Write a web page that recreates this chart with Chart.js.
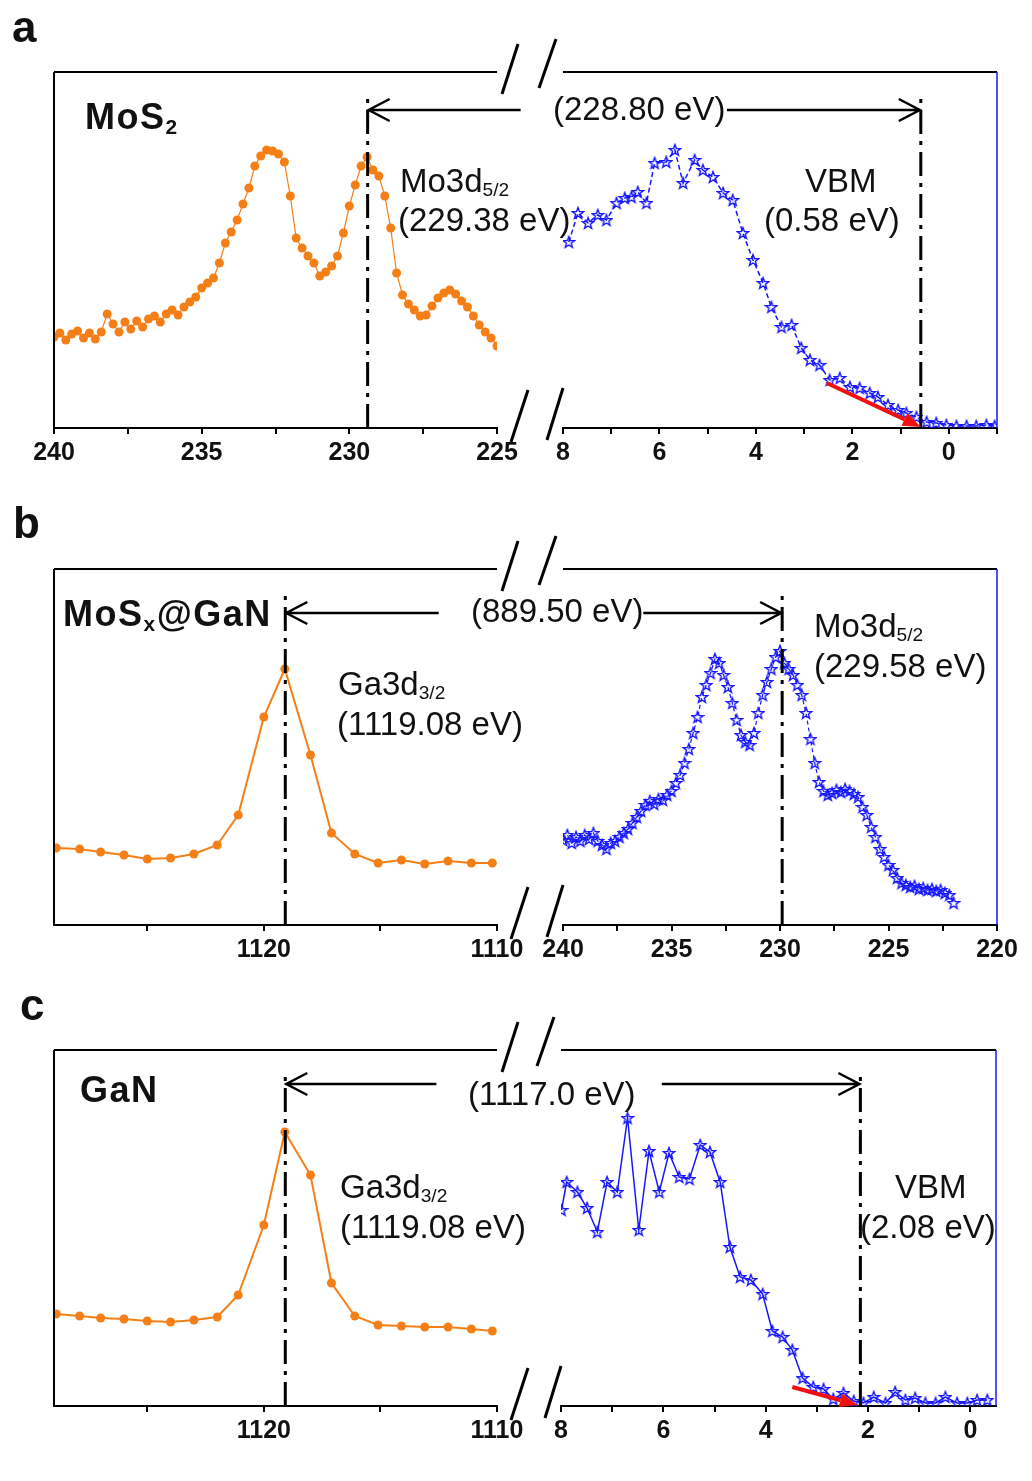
<!DOCTYPE html>
<html>
<head>
<meta charset="utf-8">
<script src="https://cdn.jsdelivr.net/npm/chart.js@4.4.1/dist/chart.umd.min.js"></script>
<style>
  body { margin: 0; background: #fff; width: 1032px; height: 1481px; position: relative; overflow: hidden;
         font-family: "Liberation Sans", Arial, sans-serif; }
  canvas { position: absolute; }
  .t { position: absolute; white-space: nowrap; color: #111; line-height: 1; }
  .t sub { font-size: 58%; vertical-align: -0.22em; line-height: 0; }
  .bold { font-weight: bold; letter-spacing: 1.5px; }
</style>
</head>
<body>

<script>
const ORANGE = '#f57f17';
const BLUE = '#1616ff';

// ---- panel a : MoS2 ----
const aLeftE = [240.0,239.8,239.6,239.4,239.2,239.0,238.8,238.6,238.4,238.2,238.0,237.8,237.6,237.4,237.2,237.0,
  236.8,236.6,236.4,236.2,236.0,235.8,235.6,235.4,235.2,235.0,234.8,234.6,234.4,234.2,234.0,233.8,233.6,233.4,
  233.2,233.0,232.8,232.6,232.4,232.2,232.0,231.8,231.6,231.4,231.2,231.0,230.8,230.6,230.4,230.2,230.0,229.8,
  229.6,229.4,229.2,229.0,228.8,228.6,228.4,228.2,228.0,227.8,227.6,227.4,227.2,227.0,226.8,226.6,226.4,226.2,
  226.0,225.8,225.6,225.4,225.2,225.0];
const aLeftI = [91,95,88,94,97,90,95,89,96,114,104,96,106,99,107,101,
  109,112,106,114,118,113,121,126,131,140,145,150,165,185,196,208,224,240,
  262,272,278,277,274,266,232,190,180,172,165,152,156,162,172,195,222,243,
  262,271,258,252,232,200,155,133,124,118,112,113,122,130,135,138,134,127,
  121,112,103,96,90,82];

const aRightE = [7.88,7.69,7.48,7.28,7.10,6.89,6.72,6.58,6.45,6.27,6.10,5.86,5.68,5.51,5.27,5.10,4.89,4.68,4.48,
  4.27,4.06,3.85,3.68,3.47,3.26,3.06,2.88,2.68,2.47,2.26,2.05,1.85,1.64,1.47,1.26,1.05,0.88,0.67,0.46,0.26,0.05,
  -0.16,-0.37,-0.57,-0.78,-0.95];
const aRightI = [186,215,205,213,208,225,230,231,236,225,265,266,278,245,268,258,251,235,228,
  195,168,145,121,101,103,80,68,63,48,50,41,40,35,31,23,18,15,11,6,5,3,
  2,2,2,3,2];

// ---- panel b : MoSx@GaN ----
const bLeftE = [1128.9,1127.9,1127.0,1126.0,1125.0,1124.0,1123.0,1122.0,1121.1,1120.0,1119.1,1118.0,1117.1,
  1116.1,1115.1,1114.1,1113.1,1112.1,1111.1,1110.2];
const bLeftI = [77,76,73,70,66,67,71,80,110,208,256,170,92,71,62,65,61,64,62,62];

const bRightE = [240.0,239.8,239.6,239.4,239.2,239.0,238.8,238.6,238.4,238.2,238.0,237.8,237.6,237.4,237.2,237.0,
  236.8,236.6,236.4,236.2,236.0,235.8,235.6,235.4,235.2,235.0,234.8,234.6,234.4,234.2,234.0,233.8,233.6,233.4,
  233.2,233.0,232.8,232.6,232.4,232.2,232.0,231.8,231.6,231.4,231.2,231.0,230.8,230.6,230.4,230.2,230.0,229.8,
  229.6,229.4,229.2,229.0,228.8,228.6,228.4,228.2,228.0,227.8,227.6,227.4,227.2,227.0,226.8,226.6,226.4,226.2,
  226.0,225.8,225.6,225.4,225.2,225.0,224.8,224.6,224.4,224.2,224.0,223.8,223.6,223.4,223.2,223.0,222.8,222.6,
  222.4,222.2,222.0];
const bRightI = [85,90,82,88,84,90,86,92,84,80,76,82,84,88,92,96,
  102,108,114,120,124,121,126,125,130,134,142,150,162,176,192,208,228,240,
  252,266,262,250,238,222,205,190,183,180,192,212,230,243,256,268,274,262,
  256,250,240,230,212,186,162,143,134,130,132,135,133,136,134,131,128,118,
  110,98,88,76,68,60,55,47,42,40,38,39,36,37,35,36,34,35,
  32,30,22];

// ---- panel c : GaN ----
const cLeftE = bLeftE;
const cLeftI = [92,90,88,87,85,84,86,89,111,181,274,231,123,90,81,80,79,79,77,75];

const cRightE = [7.99,7.89,7.68,7.49,7.29,7.10,6.90,6.70,6.48,6.28,6.08,5.89,5.69,5.49,5.28,5.09,4.89,4.70,4.50,
  4.29,4.06,3.87,3.67,3.48,3.28,3.07,2.87,2.68,2.48,2.28,2.09,1.89,1.66,1.47,1.27,1.08,0.88,0.68,0.49,0.26,0.06,
  -0.13,-0.33];
const cRightI = [196,224,214,198,174,224,214,288,176,255,214,253,229,227,261,254,224,159,129,
  126,112,75,69,56,28,19,17,7,13,5,3,9,3,14,6,8,3,3,9,3,3,
  6,6];

// peak / VBM positions (eV)
const peaks = { aL: 229.38, aR: 0.58, bL: 1119.08, bR: 229.9, cL: 1119.08, cR: 2.15 };

// outlined five point star used as point marker
function starMarker(size, color) {
  const c = document.createElement('canvas');
  c.width = size; c.height = size;
  const g = c.getContext('2d');
  const r = size / 2 - 1, ri = r * 0.42;
  g.beginPath();
  for (let i = 0; i < 10; i++) {
    const rr = i % 2 ? ri : r;
    const a = -Math.PI / 2 + i * Math.PI / 5;
    g.lineTo(size / 2 + rr * Math.cos(a), size / 2 + 0.5 + rr * Math.sin(a));
  }
  g.closePath();
  g.strokeStyle = color; g.lineWidth = 1.4;
  g.stroke();
  return c;
}
const star = starMarker(14, BLUE);

function line(ctx, pts, w, color) {
  ctx.strokeStyle = color; ctx.lineWidth = w;
  ctx.beginPath();
  ctx.moveTo(pts[0], pts[1]);
  ctx.lineTo(pts[2], pts[3]);
  ctx.stroke();
}

const deco = {
  id: 'deco',
  afterDatasetsDraw(chart, args, o) {
    const { ctx, chartArea: ca, scales: { x, y } } = chart;
    ctx.save();
    ctx.lineCap = 'butt';
    line(ctx, [ca.left, ca.top, ca.right, ca.top], 2, '#000');
    if (o.side === 'left') {
      line(ctx, [ca.left, ca.top, ca.left, ca.bottom + 1], 2, '#000');
      // axis break marks
      line(ctx, [ca.right + 5, ca.top + 22, ca.right + 21, ca.top - 28], 3, '#000');
      line(ctx, [ca.right + 14, ca.bottom + 14, ca.right + 31, ca.bottom - 38], 3, '#000');
    } else {
      line(ctx, [ca.right, ca.top, ca.right, ca.bottom], 1.5, BLUE);
      line(ctx, [ca.left - 24, ca.top + 16, ca.left - 7, ca.top - 33], 3, '#000');
      line(ctx, [ca.left - 16, ca.bottom + 12, ca.left, ca.bottom - 40], 3, '#000');
    }
    // dash-dot marker line
    const vx = x.getPixelForValue(o.mark);
    ctx.setLineDash([24, 7, 4, 7]);
    line(ctx, [vx, ca.bottom, vx, y.getPixelForValue(335)], 3, '#000');
    ctx.setLineDash([]);
    // horizontal arrow towards the marker
    const ay = y.getPixelForValue(o.arrowAt);
    const tx = x.getPixelForValue(o.arrowFrom);
    const d = Math.sign(tx - vx);
    ctx.strokeStyle = '#000'; ctx.lineWidth = 2.5;
    ctx.beginPath();
    ctx.moveTo(tx, ay); ctx.lineTo(vx + d, ay);
    ctx.moveTo(vx + d * 22, ay - 11); ctx.lineTo(vx + d, ay); ctx.lineTo(vx + d * 22, ay + 11);
    ctx.stroke();
    // red tangent arrow
    if (o.red) {
      const x1 = x.getPixelForValue(o.red[0]), y1 = y.getPixelForValue(o.red[1]);
      const x2 = x.getPixelForValue(o.red[2]), y2 = y.getPixelForValue(o.red[3]);
      const a = Math.atan2(y2 - y1, x2 - x1);
      const L = 18, W = 7;
      const bx = x2 - L * Math.cos(a), by = y2 - L * Math.sin(a);
      line(ctx, [x1, y1, bx, by], 4, '#f01010');
      ctx.fillStyle = '#f01010';
      ctx.beginPath();
      ctx.moveTo(x2, y2);
      ctx.lineTo(bx + W * Math.sin(a), by - W * Math.cos(a));
      ctx.lineTo(bx - W * Math.sin(a), by + W * Math.cos(a));
      ctx.closePath();
      ctx.fill();
    }
    ctx.restore();
  }
};

const FONT = '"Liberation Sans", Arial, sans-serif';

function makeChart(spec) {
  const padL = spec.side === 'left' ? 40 : 80;
  const padR = spec.side === 'left' ? 80 : 30;
  const padT = 60, padB = 50, H = 356;
  const cv = document.createElement('canvas');
  cv.width = spec.x1 - spec.x0 + padL + padR;
  cv.height = H + padT + padB;
  cv.style.left = (spec.x0 - padL) + 'px';
  cv.style.top = (spec.top - padT) + 'px';
  cv.style.width = cv.width + 'px';
  cv.style.height = cv.height + 'px';
  document.body.appendChild(cv);

  const isStar = spec.marker === 'star';
  new Chart(cv, {
    type: 'line',
    data: {
      datasets: [{
        data: spec.e.map((v, i) => ({ x: v, y: spec.i[i] })),
        borderColor: isStar ? BLUE : ORANGE,
        backgroundColor: isStar ? BLUE : ORANGE,
        borderWidth: spec.lw,
        borderDash: spec.dash || [],
        pointStyle: isStar ? star : 'circle',
        pointRadius: spec.r || 4,
        pointBorderWidth: 0,
        tension: 0,
        clip: 0
      }]
    },
    options: {
      responsive: false,
      animation: false,
      events: [],
      layout: { padding: { left: padL, right: padR, top: padT, bottom: 0 } },
      plugins: {
        legend: { display: false },
        tooltip: { enabled: false },
        deco: spec.deco
      },
      scales: {
        x: {
          type: 'linear',
          reverse: true,
          min: spec.min,
          max: spec.max,
          afterFit: s => { s.height = padB; },
          border: { color: '#000', width: 2 },
          grid: { drawOnChartArea: false, drawTicks: true, tickLength: 6, color: '#000', lineWidth: 2 },
          ticks: {
            stepSize: spec.step,
            includeBounds: false,
            autoSkip: false,
            maxRotation: 0,
            padding: 4,
            color: '#111',
            font: { family: FONT, size: 25, weight: 'bold' },
            callback: v => spec.labels.includes(v) ? String(v) : ''
          }
        },
        y: { display: false, min: 0, max: H }
      }
    },
    plugins: [deco]
  });
}

// tick labels shown on each axis
const aLeftTicks = [240, 235, 230, 225];
const aRightTicks = [8, 6, 4, 2, 0];
const bLeftTicks = [1120, 1110];
const bRightTicks = [240, 235, 230, 225, 220];
const cLeftTicks = [1120, 1110];
const cRightTicks = [8, 6, 4, 2, 0];

makeChart({ side: 'left', x0: 54, x1: 497, top: 72, min: 225, max: 240, step: 2.5, labels: aLeftTicks,
  e: aLeftE, i: aLeftI, marker: 'dot', r: 4.5, lw: 1.2,
  deco: { side: 'left', mark: peaks.aL, arrowAt: 318, arrowFrom: 224.2 } });
makeChart({ side: 'right', x0: 563, x1: 997, top: 72, min: -1, max: 8, step: 1, labels: aRightTicks,
  e: aRightE, i: aRightI, marker: 'star', lw: 1.5, dash: [5, 3],
  deco: { side: 'right', mark: peaks.aR, arrowAt: 318, arrowFrom: 4.6, red: [2.53, 45, 0.58, 1] } });

makeChart({ side: 'left', x0: 54, x1: 497, top: 569, min: 1110, max: 1129, step: 5, labels: bLeftTicks,
  e: bLeftE, i: bLeftI, marker: 'dot', r: 4.5, lw: 2,
  deco: { side: 'left', mark: peaks.bL, arrowAt: 312, arrowFrom: 1112.5 } });
makeChart({ side: 'right', x0: 563, x1: 997, top: 569, min: 220, max: 240, step: 2.5, labels: bRightTicks,
  e: bRightE, i: bRightI, marker: 'star', lw: 1.2, dash: [4, 3],
  deco: { side: 'right', mark: peaks.bR, arrowAt: 312, arrowFrom: 236.3 } });

makeChart({ side: 'left', x0: 54, x1: 497, top: 1050, min: 1110, max: 1129, step: 5, labels: cLeftTicks,
  e: cLeftE, i: cLeftI, marker: 'dot', r: 4.5, lw: 2,
  deco: { side: 'left', mark: peaks.cL, arrowAt: 322, arrowFrom: 1112.6 } });
makeChart({ side: 'right', x0: 561, x1: 996, top: 1050, min: -0.5, max: 8, step: 1, labels: cRightTicks,
  e: cRightE, i: cRightI, marker: 'star', lw: 1.5,
  deco: { side: 'right', mark: peaks.cR, arrowAt: 322, arrowFrom: 6.03, red: [3.48, 19, 2.2, 1] } });

// text labels: x = left edge, b = baseline (page px)
function label(html, x, b, size, cls) {
  const el = document.createElement('div');
  el.className = 't' + (cls ? ' ' + cls : '');
  el.style.fontSize = size + 'px';
  el.style.left = x + 'px';
  el.style.top = (b - 0.85 * size) + 'px';
  el.innerHTML = html;
  document.body.appendChild(el);
}

label('a', 12, 42, 44, 'bold');
label('b', 13, 538, 44, 'bold');
label('c', 20, 1020, 44, 'bold');

label('MoS<sub>2</sub>', 85, 130, 36, 'bold');
label('Mo3d<sub>5/2</sub>', 400, 192, 33);
label('(229.38 eV)', 398, 231, 33);
label('(228.80 eV)', 553, 120, 33);
label('VBM', 805, 192, 33);
label('(0.58 eV)', 764, 231, 33);

label('MoS<sub>x</sub>@GaN', 63, 627, 36, 'bold');
label('Ga3d<sub>3/2</sub>', 338, 695, 33);
label('(1119.08 eV)', 337, 735, 33);
label('(889.50 eV)', 471, 622, 33);
label('Mo3d<sub>5/2</sub>', 814, 637, 33);
label('(229.58 eV)', 814, 677, 33);

label('GaN', 80, 1103, 36, 'bold');
label('(1117.0 eV)', 468, 1105, 33);
label('Ga3d<sub>3/2</sub>', 340, 1198, 33);
label('(1119.08 eV)', 340, 1238, 33);
label('VBM', 895, 1198, 33);
label('(2.08 eV)', 860, 1238, 33);
</script>
</body>
</html>
